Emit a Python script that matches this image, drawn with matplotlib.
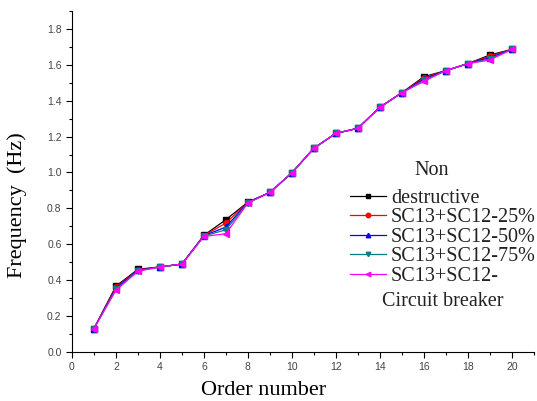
import numpy as np
import matplotlib.pyplot as plt
from matplotlib.ticker import MultipleLocator

# mode order and natural frequencies (Hz) for each damage case
order = list(range(1, 21))
f_intact = [0.131, 0.367, 0.461, 0.474, 0.490, 0.650, 0.737, 0.835, 0.889, 0.998,
            1.135, 1.218, 1.246, 1.363, 1.444, 1.533, 1.567, 1.606, 1.654, 1.685]
f_25 = [0.131, 0.362, 0.458, 0.474, 0.490, 0.649, 0.718, 0.834, 0.889, 0.998,
        1.135, 1.218, 1.246, 1.363, 1.444, 1.527, 1.567, 1.606, 1.648, 1.685]
f_50 = [0.131, 0.356, 0.455, 0.474, 0.490, 0.648, 0.696, 0.833, 0.889, 0.998,
        1.135, 1.218, 1.246, 1.363, 1.444, 1.520, 1.567, 1.606, 1.640, 1.685]
f_75 = [0.131, 0.350, 0.452, 0.474, 0.490, 0.646, 0.681, 0.831, 0.889, 0.998,
        1.135, 1.218, 1.246, 1.363, 1.444, 1.513, 1.567, 1.606, 1.632, 1.685]
f_cb = [0.131, 0.344, 0.450, 0.474, 0.490, 0.644, 0.659, 0.830, 0.889, 0.998,
        1.135, 1.218, 1.246, 1.363, 1.444, 1.507, 1.567, 1.606, 1.626, 1.685]

series = [
    (f_intact, "destructive", "black", "s"),
    (f_25, "SC13+SC12-25%", "red", "o"),
    (f_50, "SC13+SC12-50%", "blue", "^"),
    (f_75, "SC13+SC12-75%", "#008080", "v"),
    (f_cb, "SC13+SC12-", "magenta", "<"),
]

serif = ["Liberation Serif", "DejaVu Serif"]

fig = plt.figure(figsize=(5.37, 4.01), dpi=100)
ax = fig.add_axes([0.134, 0.122, 0.860, 0.851])

for y, lab, c, m in series:
    ax.plot(order, y, color=c, marker=m, markersize=4, linewidth=0.9, label=lab)

ax.set_xlim(0, 21)
ax.set_ylim(0, 1.9)
ax.xaxis.set_major_locator(MultipleLocator(2))
ax.xaxis.set_minor_locator(MultipleLocator(1))
ax.yaxis.set_major_locator(MultipleLocator(0.2))
ax.yaxis.set_minor_locator(MultipleLocator(0.1))
ax.yaxis.set_major_formatter(plt.FormatStrFormatter("%.1f"))
for s in ["top", "right"]:
    ax.spines[s].set_visible(False)
ax.tick_params(which="major", direction="out", length=4, width=0.8,
               labelsize=7.5, labelcolor="#444444")
ax.tick_params(which="minor", direction="out", length=2.5, width=0.8)
for t in ax.get_xticklabels() + ax.get_yticklabels():
    t.set_family("Liberation Sans")

ax.set_xlabel("Order number", family=serif, fontsize=16)
ax.set_ylabel("Frequency  (Hz)", family=serif, fontsize=16)
ax.xaxis.set_label_coords(0.415, -0.085)
ax.yaxis.set_label_coords(-0.097, 0.43)

leg = ax.legend(loc="upper left", bbox_to_anchor=(0.584, 0.503), frameon=False,
                prop={"family": serif, "size": 14.5}, handlelength=1.8,
                handletextpad=0.25, labelspacing=0.02, borderaxespad=0,
                markerscale=0.8)

# extra lines of the two wrapped legend labels
ax.text(0.779, 0.531, "Non", transform=ax.transAxes, family=serif, fontsize=14.5,
        ha="center", va="center", color="#222222")
ax.text(0.671, 0.147, "Circuit breaker", transform=ax.transAxes, family=serif,
        fontsize=14.5, ha="left", va="center", color="#222222")
for t in leg.get_texts():
    t.set_color("#222222")

fig.savefig("out.png", dpi=100)
